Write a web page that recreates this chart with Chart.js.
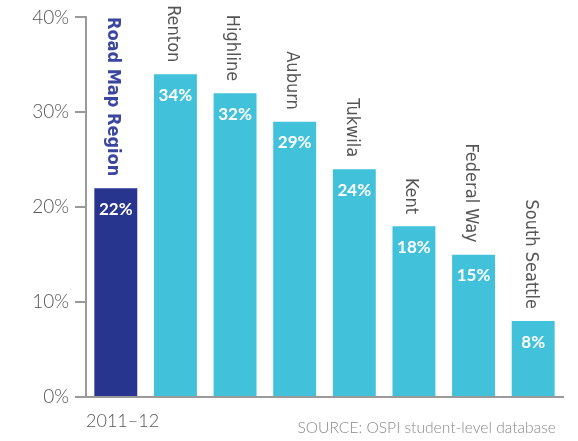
<!DOCTYPE html>
<html>
<head>
<meta charset="utf-8">
<script src="https://cdn.jsdelivr.net/npm/chart.js@4/dist/chart.umd.min.js"></script>
<style>
  html, body { margin: 0; padding: 0; background: #fff; }
  #wrap { width: 578px; height: 441px; }
</style>
</head>
<body>
<div id="wrap"><canvas id="chart" width="578" height="441"></canvas></div>
<script>
// data
const categories = ["Road Map Region", "Renton", "Highline", "Auburn", "Tukwila", "Kent", "Federal Way", "South Seattle"];
const values = [22, 34, 32, 29, 24, 18, 15, 8];
const yTicks = [0, 10, 20, 30, 40];
const yearLabel = "2011–12";
const sourceLabel = "SOURCE: OSPI student-level database";

const NAVY = "#27358f";
const CYAN = "#42c2da";
const AXIS = "#9a9a9a";
const TEXT = "#555555";

// category names (rotated) above bars, values inside bar tops, footer text
const barLabels = {
  id: "barLabels",
  afterDatasetsDraw(chart) {
    const ctx = chart.ctx;
    const meta = chart.getDatasetMeta(0);
    ctx.save();
    meta.data.forEach((bar, i) => {
      // value inside bar
      ctx.fillStyle = "#ffffff";
      ctx.font = "bold 17px Lato, 'DejaVu Sans', sans-serif";
      ctx.textAlign = "center";
      ctx.textBaseline = "middle";
      ctx.fillText(values[i] + "%", bar.x, bar.y + 21);

      // rotated category name
      ctx.save();
      ctx.translate(bar.x - 3, bar.y - 12);
      ctx.rotate(Math.PI / 2);
      ctx.textAlign = "right";
      ctx.textBaseline = "middle";
      if (i === 0) {
        ctx.fillStyle = "#3b479e";
        ctx.font = "bold 18px 'Liberation Sans Narrow', 'DejaVu Sans Condensed', sans-serif";
      } else {
        ctx.fillStyle = TEXT;
        ctx.font = "18px 'Liberation Sans Narrow', 'DejaVu Sans Condensed', sans-serif";
      }
      ctx.fillText(categories[i], 0, 0);
      ctx.restore();
    });

    const area = chart.chartArea;
    ctx.textBaseline = "middle";
    ctx.fillStyle = TEXT;
    ctx.font = "300 18px Lato, 'DejaVu Sans', sans-serif";
    ctx.textAlign = "left";
    ctx.fillText(yearLabel, area.left, 421);
    ctx.fillStyle = "#8a8a8a";
    ctx.font = "300 15.6px Lato, 'DejaVu Sans', sans-serif";
    ctx.textAlign = "right";
    ctx.fillText(sourceLabel, area.right - 7, 428);
    ctx.restore();
  }
};

new Chart(document.getElementById("chart").getContext("2d"), {
  type: "bar",
  data: {
    labels: categories,
    datasets: [{
      data: values,
      backgroundColor: values.map((v, i) => (i === 0 ? NAVY : CYAN)),
      borderWidth: 0,
      barPercentage: 0.8,
      categoryPercentage: 0.9,
    }],
  },
  options: {
    responsive: false,
    animation: false,
    layout: { padding: { top: 15, right: 15, bottom: 44, left: 0 } },
    plugins: { legend: { display: false }, tooltip: { enabled: false } },
    scales: {
      x: {
        grid: { display: false, drawTicks: false },
        border: { display: true, color: AXIS, width: 2 },
        ticks: { display: false },
      },
      y: {
        min: 0,
        max: 40,
        afterBuildTicks: (scale) => { scale.ticks = yTicks.map((v) => ({ value: v })); },
        afterFit: (scale) => { scale.width = 86; },
        grid: { display: true, drawOnChartArea: false, drawTicks: true, tickLength: 11, color: AXIS, lineWidth: 2 },
        border: { display: true, color: AXIS, width: 2 },
        ticks: {
          color: TEXT,
          padding: 6,
          font: { size: 19, weight: "300", family: "Lato, 'DejaVu Sans', sans-serif" },
          callback: (v) => v + "%",
        },
      },
    },
  },
  plugins: [barLabels],
});
</script>
</body>
</html>
